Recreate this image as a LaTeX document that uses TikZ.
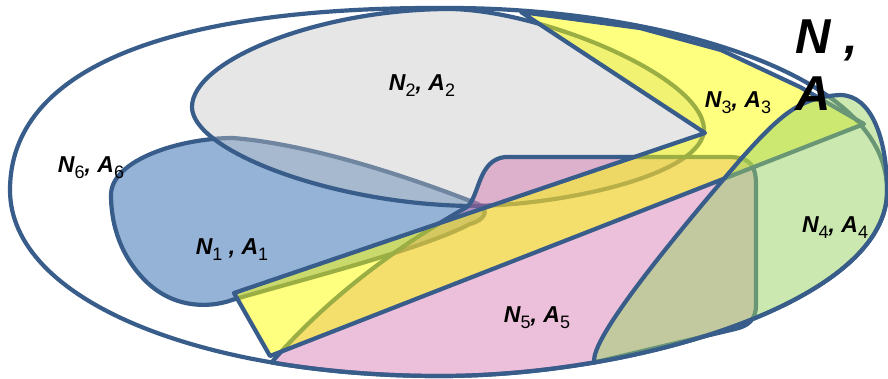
\documentclass[tikz,border=0pt]{standalone}
\usepackage{fontspec}
\setmainfont{Liberation Sans}
\newcommand{\lsub}[1]{\raisebox{-6pt}{\fontsize{18}{18}\selectfont\mdseries\upshape #1}}

\begin{document}
\begin{tikzpicture}[x=1pt,y=1pt,yscale=-1,xscale=1,
    region/.style={draw={rgb, 255:red, 56; green, 93; blue, 138}, line width=4.2pt, line join=round},
    tag/.style={font=\fontsize{23}{27}\selectfont\bfseries\itshape, anchor=base, inner sep=0pt},
    bigtag/.style={font=\fontsize{49}{57}\selectfont\bfseries\itshape, align=left, anchor=north west, inner sep=0pt}]

\useasboundingbox (0,0) rectangle (888,378);

% --- 1. 外圈 N_6 ---
\draw [region, fill=white]
    (10,190) .. controls (10,70) and (165,6) .. (450,8) ..
    controls (650,8) and (887,70) .. (887,190) ..
    controls (889,300) and (640,376) .. (440,376) ..
    controls (200,376) and (10,300) .. (10,190) -- cycle;

% --- 2. 蓝色区域 N_1 ---
\draw [region, fill={rgb, 255:red, 149; green, 179; blue, 215}]
    (111,195) .. controls (111,160) and (180,138) .. (233,138) ..
    controls (320,145) and (430,185) .. (478,204) ..
    controls (490,210) and (485,220) .. (470,224) ..
    controls (420,250) and (300,280) .. (232,300) ..
    controls (210,308) and (170,310) .. (140,275) ..
    controls (118,250) and (111,220) .. (111,195) -- cycle;

% --- 3. 灰色椭圆 N_2，半透明 ---
\draw [region, fill={rgb, 255:red, 194; green, 194; blue, 194}, fill opacity=0.4]
    (192,107) .. controls (192,60) and (320,9) .. (450,9) ..
    controls (540,10) and (700,75) .. (704,128) ..
    controls (706,175) and (560,206) .. (470,206) ..
    controls (330,204) and (192,150) .. (192,107) -- cycle;

% --- 4. 粉色区域 N_5 ---
\draw [region, fill={rgb, 255:red, 208; green, 98; blue, 163}, fill opacity=0.4]
    (271.6,362.4) .. controls (330,295) and (400,245) .. (467,207) ..
    controls (480,195) and (478,160) .. (505,157) --
    (728,157) .. controls (750,157) and (756,165) .. (756,185) --
    (756,305) .. controls (756,320) and (748,326) .. (735,329) --
    (594.5,362.4) .. controls (543.1,371.25) and (490,376) .. (440,376) ..
    controls (380,376) and (323.1,371.25) .. (271.6,362.4) -- cycle;

% --- 5. 黄色带 N_3 ---
\draw [region, fill={rgb, 255:red, 255; green, 255; blue, 0}, fill opacity=0.5]
    (521,12) -- (640,28) -- (721,50) -- (800,87) -- (864,124) --
    (270,356) -- (234,293) -- (705,133) -- cycle;

% --- 6. 绿色区域 N_4 ---
\draw [region, fill={rgb, 255:red, 155; green, 210; blue, 100}, fill opacity=0.5]
    (594.5,362.4) .. controls (588,340) and (680,230) .. (740,160) ..
    controls (780,115) and (800,97) .. (840,95) ..
    controls (872,95) and (887,140) .. (887,190) ..
    controls (888.5,272.5) and (748.8,335.9) .. (594.5,362.4) -- cycle;

% --- 7. 标注 ---
\node [tag] (n6) at (91,172) {N\lsub{6}, A\lsub{6}};
\node [tag] (n2) at (422,90) {N\lsub{2}, A\lsub{2}};
\node [tag] (n3) at (738,107) {N\lsub{3}, A\lsub{3}};
\node [tag] (n1) at (232,254) {N\lsub{1} , A\lsub{1}};
\node [tag] (n5) at (537,322) {N\lsub{5}, A\lsub{5}};
\node [tag] (n4) at (835,232) {N\lsub{4}, A\lsub{4}};
\node [bigtag] (na) at (795,20) {N ,\\A};

\end{tikzpicture}
\end{document}
